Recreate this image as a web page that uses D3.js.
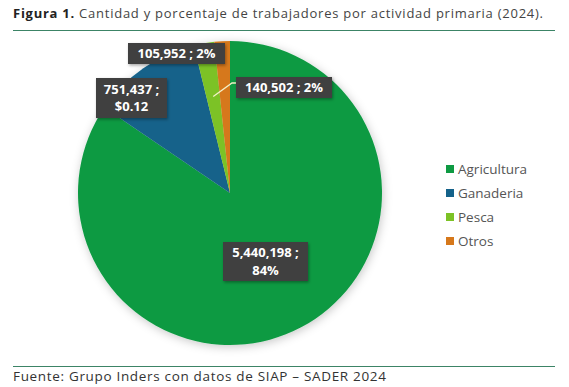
<!DOCTYPE html>
<html><head><meta charset="utf-8">
<script src="https://cdn.jsdelivr.net/npm/d3@7"></script>
<style>body{margin:0;background:#fff;} text{font-family:"Open Sans",Lato,sans-serif;}</style>
</head><body><svg id="c" width="569" height="387"></svg>
<script>
const categories = ["Agricultura","Ganaderia","Pesca","Otros"];
const values = [5440198, 751437, 140502, 105952];
const labels = ["5,440,198 ;\n84%", "751,437 ;\n$0.12", "140,502 ; 2%", "105,952 ; 2%"];
const colors = ["#0e9a43","#14628a","#7cc225","#d6781b"];

const svg = d3.select("#c");
const defs = svg.append("defs");
const f = defs.append("filter").attr("id","sh").attr("x","-20%").attr("y","-20%").attr("width","140%").attr("height","140%");
f.append("feDropShadow").attr("dx",1).attr("dy",2).attr("stdDeviation",5).attr("flood-color","#000").attr("flood-opacity",0.22);
const f2 = defs.append("filter").attr("id","sh2").attr("x","-20%").attr("y","-30%").attr("width","140%").attr("height","160%");
f2.append("feDropShadow").attr("dx",1).attr("dy",1.5).attr("stdDeviation",1.5).attr("flood-color","#000").attr("flood-opacity",0.35);

// title
const t = svg.append("text").attr("x",13).attr("y",18).attr("font-size",13).attr("fill","#444")
  .attr("textLength",530);
t.append("tspan").attr("font-weight","bold").attr("fill","#222").text("Figura 1.");
t.append("tspan").text(" Cantidad y porcentaje de trabajadores por actividad primaria (2024).");
svg.append("line").attr("x1",13).attr("x2",555).attr("y1",30.5).attr("y2",30.5).attr("stroke","#3c8466").attr("stroke-width",1.2);

// pie
const cx = 230, cy = 193, r = 152;
const pie = d3.pie().sort(null).value(d=>d)(values);
const arc = d3.arc().innerRadius(0).outerRadius(r);
const g = svg.append("g").attr("transform",`translate(${cx},${cy})`);
g.append("g").attr("filter","url(#sh)").selectAll("path").data(pie).join("path")
 .attr("d",arc).attr("fill",(d,i)=>colors[i]);

// leader line for Pesca label
const pArc = pie[2];
const mid = (pArc.startAngle+pArc.endAngle)/2;
const pr = 98;
const p0 = [cx + Math.sin(mid)*pr, cy - Math.cos(mid)*pr];
svg.append("polyline").attr("points",`${p0[0]},${p0[1]} ${232},${83} ${237},${83}`)
 .attr("fill","none").attr("stroke","#f3f0c8").attr("stroke-width",1.3);

// label boxes (positions)
const boxes = [
 {x:223,y:242,w:85,h:39},
 {x:96,y:78,w:71,h:40},
 {x:236,y:77,w:96,h:21},
 {x:128,y:43,w:97,h:21}
];
labels.forEach((lab,i)=>{
  const b = boxes[i];
  const lg = svg.append("g");
  lg.append("rect").attr("x",b.x).attr("y",b.y).attr("width",b.w).attr("height",b.h)
    .attr("fill","#404040").attr("filter","url(#sh2)");
  const lines = lab.split("\n");
  lines.forEach((l,j)=>{
    lg.append("text").attr("x",b.x+b.w/2).attr("text-anchor","middle")
      .attr("font-size",13).attr("font-weight","bold").attr("fill","#fff")
      .attr("y", b.y + b.h/2 + 4.5 + (j - (lines.length-1)/2)*17.5).text(l);
  });
});

// legend
const ly = d3.scalePoint().domain(categories).range([169,241]);
const leg = svg.append("g");
categories.forEach((c,i)=>{
  leg.append("rect").attr("x",446).attr("y",ly(c)-4).attr("width",8).attr("height",8).attr("fill",colors[i]);
  leg.append("text").attr("x",458).attr("y",ly(c)+4.5).attr("font-size",13.5).attr("fill","#555").text(c);
});

// footer
svg.append("line").attr("x1",13).attr("x2",555).attr("y1",366.5).attr("y2",366.5).attr("stroke","#3c8466").attr("stroke-width",1.2);
svg.append("text").attr("x",13).attr("y",381).attr("font-size",13.5).attr("fill","#333")
 .attr("textLength",373)
 .text("Fuente: Grupo Inders con datos de SIAP – SADER 2024");
</script></body></html>
